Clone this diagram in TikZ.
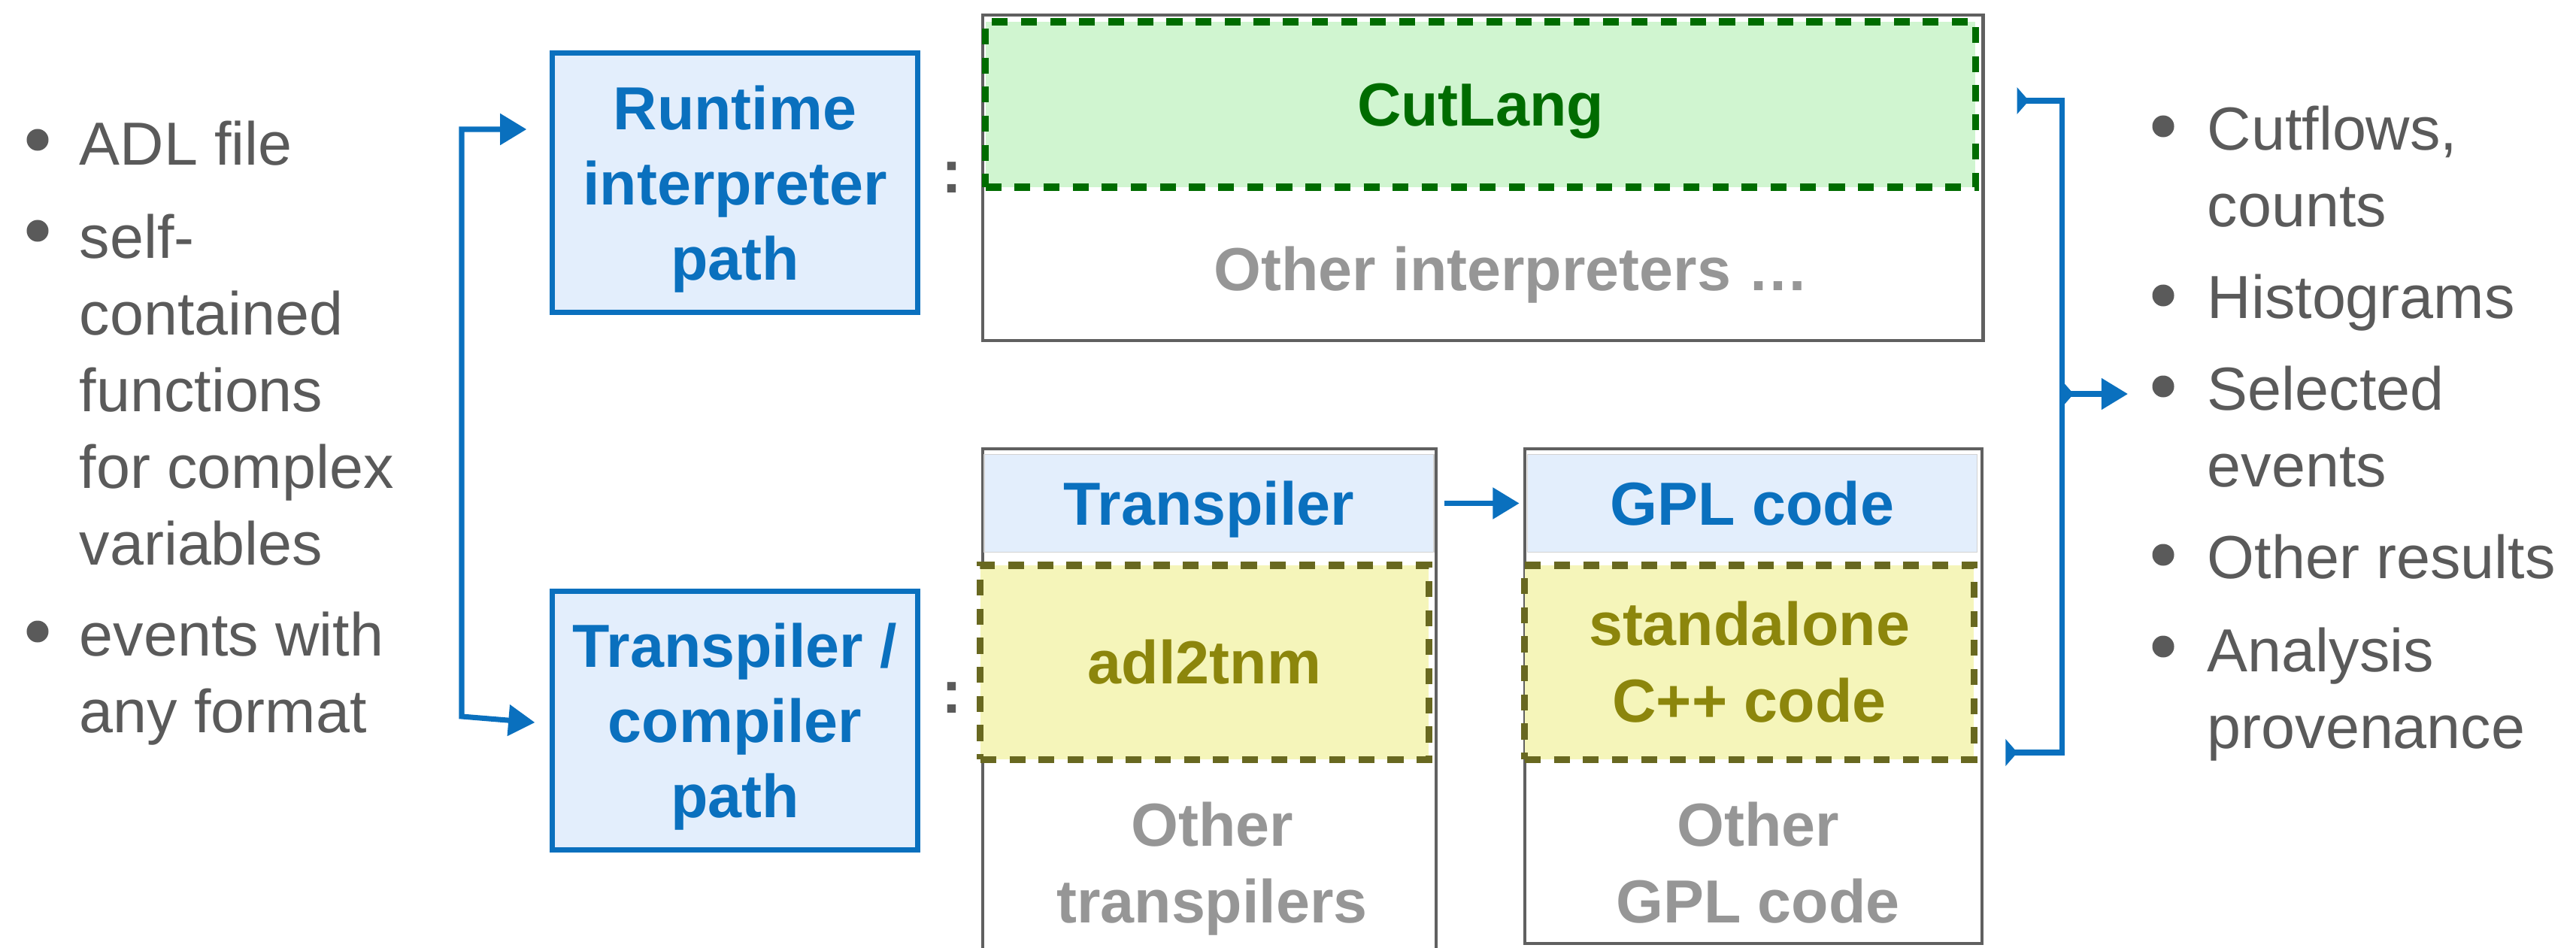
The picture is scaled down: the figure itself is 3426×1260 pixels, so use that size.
\documentclass[tikz,border=0pt]{standalone}
\usepackage{fontspec}
\setmainfont{Liberation Sans}
\usetikzlibrary{arrows.meta,calc}

\definecolor{adlblue}{RGB}{10,112,190}
\definecolor{adlsky}{RGB}{227,238,252}
\definecolor{txtgray}{RGB}{90,90,90}
\definecolor{softgray}{RGB}{150,150,150}
\definecolor{framegray}{RGB}{96,96,96}
\definecolor{cutgreen}{RGB}{0,108,0}
\definecolor{cutfill}{RGB}{208,245,208}
\definecolor{olivetxt}{RGB}{140,134,12}
\definecolor{olivefill}{RGB}{245,245,186}
\definecolor{oliveline}{RGB}{104,104,32}

\begin{document}
\begin{tikzpicture}[x=0.01cm,y=-0.01cm]
\tikzset{big/.style = {font=\fontsize{23}{29}\selectfont}}
\tikzset{bold/.style = {font=\fontsize{23}{29}\selectfont\bfseries}}
\tikzset{item/.style = {big,anchor=base west,align=left,inner sep=0pt,text=txtgray}}
\tikzset{dot/.style = {shape=circle,fill=txtgray,inner sep=0pt,minimum size=0.29cm}}
\tikzset{pathbox/.style = {draw=adlblue,fill=adlsky,line width=2pt,minimum width=4.85cm,minimum height=3.44cm,align=center,text=adlblue,font=\fontsize{23}{28.4}\selectfont\bfseries,text depth=0pt}}
\tikzset{outerbox/.style = {draw=framegray,line width=1.2pt,inner sep=0pt}}
\tikzset{headbox/.style = {draw=gray!35,fill=adlsky,inner sep=0pt,minimum width=5.98cm,minimum height=1.30cm,text=adlblue,bold,text depth=0pt}}
\tikzset{dashbox/.style = {line width=2.6pt,dash pattern=on 6pt off 5pt,inner sep=0pt,align=center,bold}}
\tikzset{othertext/.style = {bold,text=softgray,align=center,inner sep=0pt}}
\tikzset{colon/.style = {bold,text=txtgray,inner sep=0pt}}
\tikzset{flow/.style = {draw=adlblue,line width=2pt}}
\tikzset{flowhead/.tip = {Triangle[width=11.5pt,length=10pt]}}
\tikzset{flowtail/.tip = {Triangle[reversed,width=10pt,length=4.5pt]}}

\useasboundingbox (0,0) rectangle (3426,1260);

% inputs (multi-line items are placed by their last baseline)
\node[dot] (d1) at (50,186) {};
\node[item] (adl) at (105,219) {ADL file};
\node[dot] (d2) at (50,307) {};
\node[item] (funcs) at (105,751) {self-\\contained\\functions\\for complex\\variables};
\node[dot] (d3) at (50,840) {};
\node[item] (events) at (105,974) {events with\\any format};

% the two paths
\node[pathbox] (runtime) at (977.5,243) {Runtime\\interpreter\\path};
\node[pathbox] (compiler) at (977.5,958.5) {Transpiler /\\compiler\\path};
\node[colon] (c1) at (1266,236) {:};
\node[colon] (c2) at (1266,928) {:};

% interpreters
\node[outerbox,minimum width=13.30cm,minimum height=4.33cm] (interp) at (1972,236.5) {};
\node[dashbox,draw=cutgreen,fill=cutfill,text=cutgreen,text depth=0pt,minimum width=13.16cm,minimum height=2.20cm] (cutlang) at (1969,139) {CutLang};
\node[othertext,anchor=base] (otherint) at (2010,386) {Other interpreters …};

% transpilers and code
\node[outerbox,minimum width=6.03cm,minimum height=6.73cm] (transp) at (1608.5,933.5) {};
\node[outerbox,minimum width=6.08cm,minimum height=6.58cm] (gpl) at (2332,926) {};
\node[headbox] (thead) at (1608,669.5) {Transpiler};
\node[headbox] (ghead) at (2330.5,669.5) {GPL code};
\node[dashbox,draw=oliveline,fill=olivefill,text=olivetxt,minimum width=5.96cm,minimum height=2.58cm] (adltnm) at (1602,881) {adl2tnm};
\node[dashbox,draw=oliveline,fill=olivefill,text=olivetxt,minimum width=5.97cm,minimum height=2.58cm] (cpp) at (2326.5,881) {standalone\\C++ code};
\node[othertext,anchor=base] (othertr) at (1612,1227) {Other\\transpilers};
\node[othertext,anchor=base] (othergpl) at (2338,1227) {Other\\GPL code};

% outputs
\node[dot] (r1) at (2877,168) {};
\node[item] (cutflows) at (2935,301) {Cutflows,\\counts};
\node[dot] (r2) at (2877,393) {};
\node[item] (histos) at (2935,423) {Histograms};
\node[dot] (r3) at (2877,514) {};
\node[item] (selected) at (2935,647) {Selected\\events};
\node[dot] (r4) at (2877,738) {};
\node[item] (otherres) at (2935,769) {Other results};
\node[dot] (r5) at (2877,860) {};
\node[item] (prov) at (2935,995) {Analysis\\provenance};

% connectors
\coordinate (fork) at (614,953);
\coordinate (merge) at (2742,524);
\coordinate (out) at (2830,524);
\draw[flow,flowhead-flowhead] ($(runtime.west)+(-31,-71)$) -| (fork) -- ($(compiler.west)+(-20,2.5)$);
\draw[flow,-flowhead,shorten <=0.13cm,shorten >=0.1cm] (thead.east) -- (ghead.west);
\draw[flow,flowtail-flowtail] ($(interp.east)+(43,-102.5)$) -| (merge) |- ($(gpl.east)+(29,75)$);
\draw[flow,flowtail-flowhead] (merge) -- (out);
\end{tikzpicture}
\end{document}
